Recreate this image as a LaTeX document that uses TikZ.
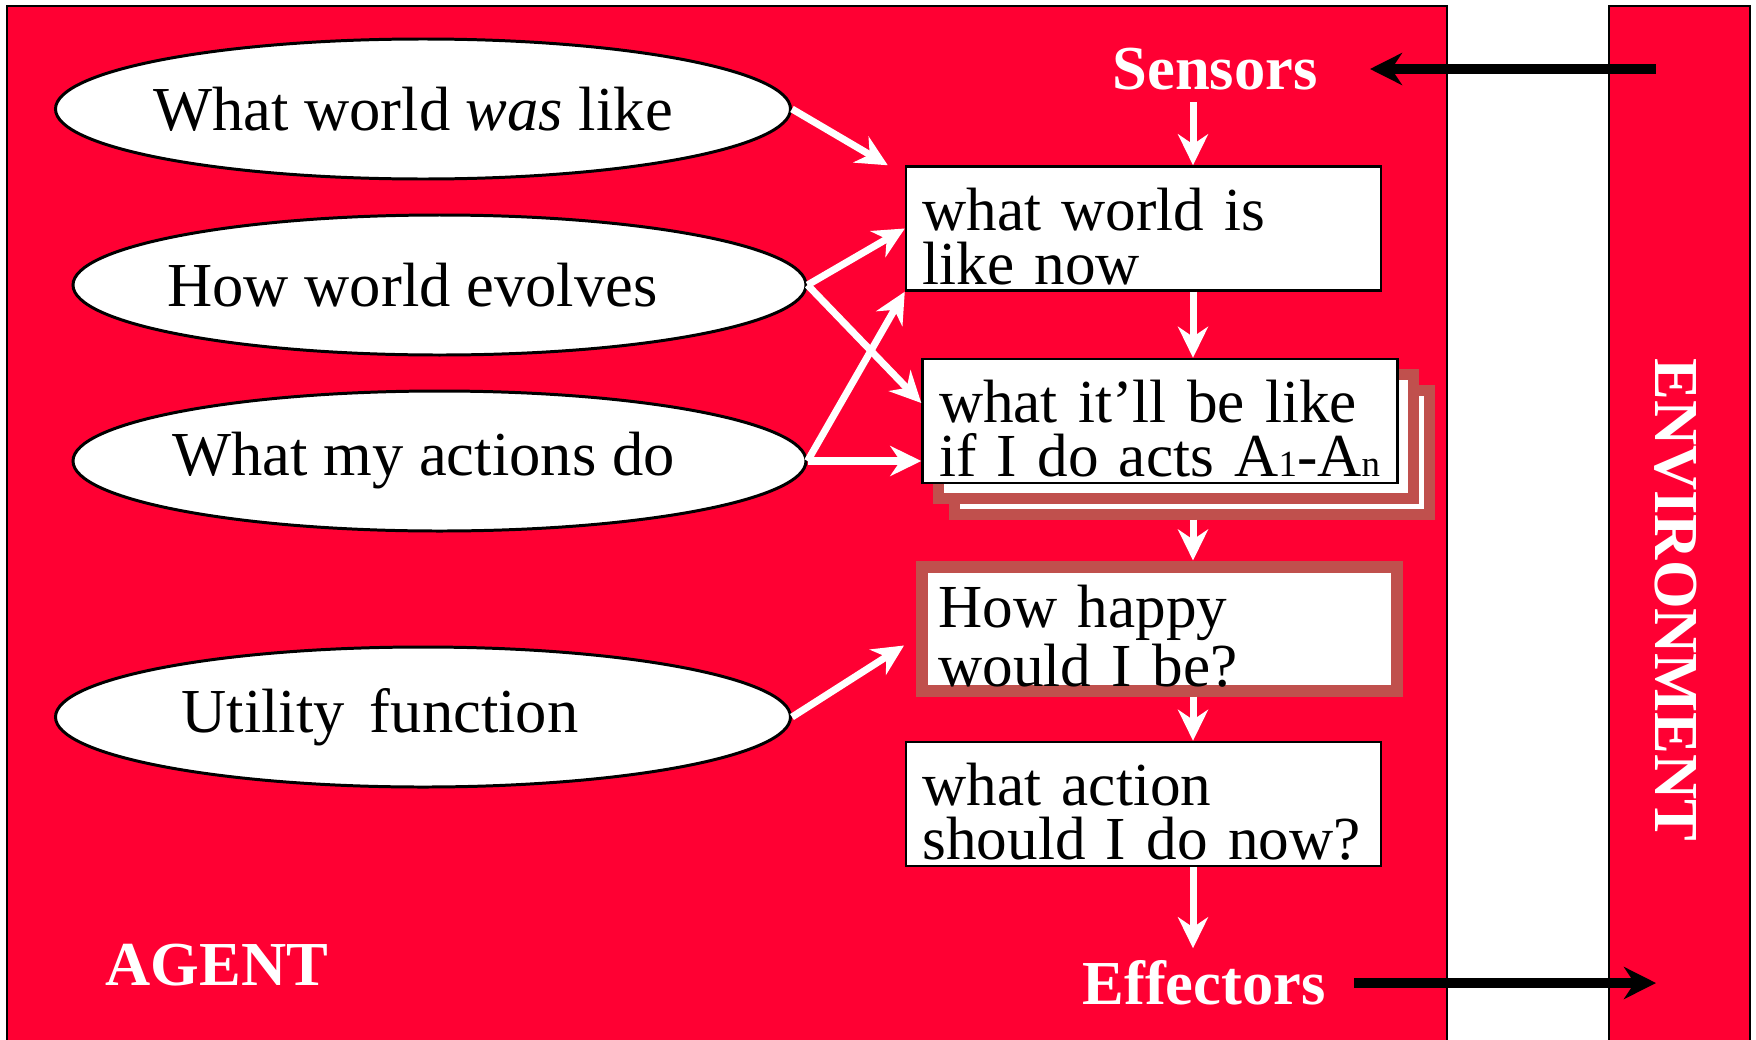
\documentclass[tikz,border=0pt]{standalone}
\usepackage{fontspec}
\setmainfont{Liberation Serif}
\usetikzlibrary{arrows.meta,shapes.geometric}
\definecolor{agentred}{RGB}{255,0,51}
\definecolor{stackbrown}{RGB}{192,80,77}
\newcommand{\bigtext}{\fontsize{17.8}{15.4}\selectfont}
\newcommand{\boxtext}{\fontsize{17.4}{15.4}\selectfont}
\newcommand{\smallidx}[1]{{\fontsize{10.5}{10.5}\selectfont #1}}
\newcommand{\topstrut}{\rule{0pt}{0.58cm}}
\begin{document}
\begin{tikzpicture}[frame/.style = {draw=black, line width=0.7pt, fill=agentred}, belief/.style = {draw, ellipse, fill=white, line width=0.85pt, minimum width=7.35cm, minimum height=1.4cm, inner sep=0, font=\bigtext}, box/.style = {draw, rectangle, fill=white, line width=0.7pt, minimum height=1.24cm, text width=4.42cm, inner xsep=0.165cm, inner ysep=0, align=left, font=\boxtext}, shade/.style = {draw=stackbrown, rectangle, fill=white, line width=0.11cm, minimum width=4.75cm, minimum height=1.24cm}, title/.style = {text=white, font=\bigtext\bfseries}, flow/.style = {draw=white, line width=2pt, -{Stealth[length=0.31cm, width=0.3cm]}}, signal/.style = {draw=black, line width=3.1pt, -{Stealth[length=0.32cm, width=0.32cm]}}]
  \useasboundingbox (0, 0) rectangle (17.56, -10.39);
  \clip (0, 0) rectangle (17.56, -10.39);
  \draw[frame] (0.07, -0.06) rectangle (14.47, -10.6);
  \draw[frame] (16.09, -0.06) rectangle (17.50, -10.6);
  \node[belief] at (4.23, -1.09) (was) {\hspace*{-0.2cm}What world \emph{was} like};
  \node[belief, minimum width=7.33cm] at (4.395, -2.85) (evolves) {\hspace*{-0.54cm}How world evolves};
  \node[belief, minimum width=7.33cm] at (4.395, -4.61) (actions) {\hspace*{-0.32cm}What my actions do};
  \node[belief] at (4.23, -7.17) (utility) {\hspace*{-0.86cm}Utility\hspace{0.4em}function};
  \node[title] at (12.15, -0.69) (sensors) {Sensors};
  \node[box] at (11.435, -2.285) (now) {\topstrut what world is\\like now};
  \node[shade] at (11.92, -4.52) (acts3) {};
  \node[shade] at (11.76, -4.365) (acts2) {};
  \node[box] at (11.60, -4.21) (acts) {\topstrut what it’ll be like\\\mbox{if I do acts A\smallidx{1}-A\smallidx{n}}};
  \node[box, draw=stackbrown, line width=0.12cm] at (11.595, -6.285) (happy) {\topstrut How happy\\would I be?};
  \node[box] at (11.435, -8.04) (action) {\topstrut what action\\\mbox{should I do now?}};
  \node[title] at (12.04, -9.83) (effectors) {Effectors};
  \node[title] at (2.17, -9.65) (agent) {AGENT};
  \node[title, rotate=-90] at (16.76, -6.00) (environment) {ENVIRONMENT};
  \coordinate (col) at (11.93, 0);
  \coordinate (envin) at (16.56, -0.69);
  \coordinate (envout) at (16.56, -9.83);
  \draw[flow] (sensors.south -| col) -- (now.north -| col);
  \draw[flow] (now.south -| col) -- (acts.north -| col);
  \draw[flow] (acts3.south -| col) -- (happy.north -| col);
  \draw[flow] (happy.south -| col) -- (action.north -| col);
  \draw[flow] (action.south -| col) -- (effectors.north -| col);
  \draw[flow] (was.east) -- ([xshift=-0.17cm]now.north west);
  \draw[flow] (evolves.east) -- (now.west);
  \draw[flow] (evolves.east) -- ([yshift=0.18cm]acts.west);
  \draw[flow] (actions.east) -- (now.south west);
  \draw[flow] (actions.east) -- (acts.west |- actions.east);
  \draw[flow] (utility.east) -- ([xshift=-0.12cm, yshift=-0.17cm]happy.west);
  \draw[signal] (envin) -- ([xshift=0.4cm]sensors.east);
  \draw[signal] ([xshift=0.16cm]effectors.east) -- (envout);
\end{tikzpicture}
\end{document}
